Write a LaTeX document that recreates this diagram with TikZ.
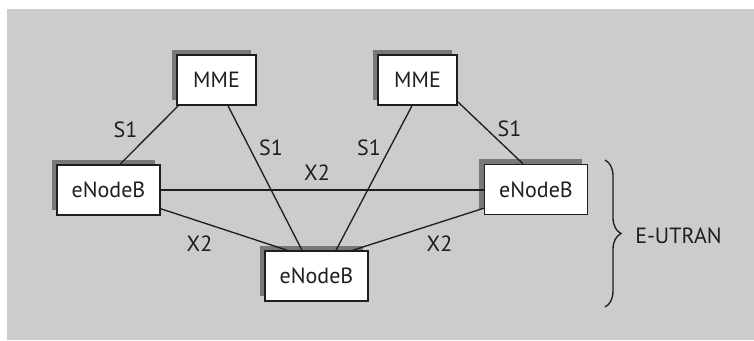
\documentclass[tikz,border=0pt]{standalone}
\usepackage{fontspec}
\setmainfont{PT Sans}
\usetikzlibrary{shadows,calc,decorations.pathreplacing}
\definecolor{bggray}{HTML}{CCCCCC}
\definecolor{shadowgray}{HTML}{787878}
\definecolor{ink}{HTML}{1E1E1E}
\tikzset{
  box/.style={draw=ink, line width=1.1pt, fill=white, minimum height=37.5pt, inner sep=0pt,
    font=\fontsize{16.5}{19}\selectfont, text=ink,
    general shadow={fill=shadowgray, shadow xshift=-4pt, shadow yshift=4pt}},
  mmebox/.style={box, minimum width=59.25pt},
  enbbox/.style={box, minimum width=77.25pt},
  link/.style={draw=ink, line width=1pt},
  lbl/.style={font=\fontsize{16.5}{19}\selectfont, text=ink, inner sep=0pt}
}
\begin{document}
\begin{tikzpicture}[x=0.75pt, y=-0.75pt]
\useasboundingbox (0,0) rectangle (754,340);
\fill[white] (0,0) rectangle (754,340);
\fill[bggray] (7,9) rectangle (754,340);

\node[mmebox] (mmeL) at (216.5,80) {MME};
\node[mmebox] (mmeR) at (417.5,80) {MME};
\node[enbbox] (enbL) at (108.5,190) {eNodeB};
\node[enbbox] (enbR) at (536,189.5) {eNodeB};
\node[enbbox] (enbB) at (316.5,276) {eNodeB};

\draw[link] ($(mmeL.south west)+(2,0)$) -- ($(enbL.north)+(11.5,0)$);
\draw[link] ($(mmeL.south)+(11.5,0)$) -- ($(enbB.north)+(-14.5,0)$);
\draw[link] ($(mmeR.south)+(-5.5,0)$) -- ($(enbB.north)+(19.5,0)$);
\draw[link] ($(mmeR.south east)+(0,-4)$) -- ($(enbR.north)+(-13,0)$);
\draw[link] (enbL.east) -- (enbL.east -| enbR.west);
\draw[link] ($(enbL.south east)+(0,-7)$) -- ($(enbB.north west)+(23,0)$);
\draw[link] ($(enbR.south west)+(0,-7)$) -- ($(enbB.north east)+(-16,0)$);

\node[lbl] (s1a) at (125.5,129.5) {S1};
\node[lbl] (s1b) at (271,147.5) {S1};
\node[lbl] (s1c) at (369,147.5) {S1};
\node[lbl] (s1d) at (509.5,129) {S1};
\node[lbl] (x2a) at (317,173) {X2};
\node[lbl] (x2b) at (199.5,243.5) {X2};
\node[lbl] (x2c) at (439.5,243.5) {X2};

\coordinate (btop) at (605,160);
\coordinate (bbot) at (605,307);
\draw[draw=ink, line width=1pt, decorate, decoration={brace, amplitude=12pt}] (btop) -- (bbot);
\node[lbl, anchor=west] (eutran) at (635,236) {E-UTRAN};
\end{tikzpicture}
\end{document}
